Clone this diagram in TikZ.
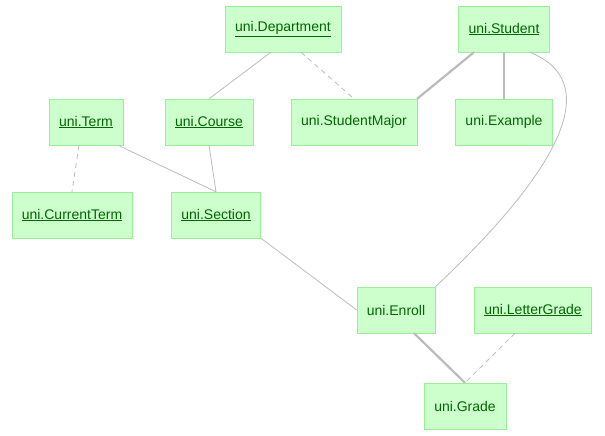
\documentclass[tikz,border=0pt]{standalone}
\usepackage{fontspec}
\setmainfont{Liberation Sans}
\usetikzlibrary{positioning}
\definecolor{boxfill}{HTML}{CCFFCC}
\definecolor{boxline}{HTML}{99EE99}
\definecolor{boxtext}{HTML}{006600}
\definecolor{edgegray}{HTML}{BBBBBB}
\tikzset{
  tbl/.style={draw=boxline, fill=boxfill, text=boxtext, inner xsep=10pt,
    minimum height=46pt, font=\fontsize{14}{16}\selectfont},
  link/.style={draw=edgegray, line width=0.8pt},
  strong/.style={draw=edgegray, line width=2.2pt},
  weak/.style={draw=edgegray, line width=0.8pt, dashed, dash pattern=on 5pt off 4pt}
}
\begin{document}
\begin{tikzpicture}[x=1pt, y=-1pt]
  \useasboundingbox (0,0) rectangle (605,436);

  \node[tbl] (dept) at (283, 29) {\underline{uni.Department}};
  \node[tbl] (student) at (504, 29) {\underline{uni.Student}};
  \node[tbl] (term) at (86, 122) {\underline{uni.Term}};
  \node[tbl] (course) at (209, 122) {\underline{uni.Course}};
  \node[tbl] (major) at (354, 122) {uni.StudentMajor};
  \node[tbl] (example) at (504, 122) {uni.Example};
  \node[tbl] (current) at (72, 215) {\underline{uni.CurrentTerm}};
  \node[tbl] (section) at (216, 215) {\underline{uni.Section}};
  \node[tbl] (enroll) at (396, 310) {uni.Enroll};
  \node[tbl] (letter) at (533, 310) {\underline{uni.LetterGrade}};
  \node[tbl] (grade) at (465, 406) {uni.Grade};

  \draw[link] (dept.south west) ++(46,0) coordinate (d1) -- (course.north);
  \draw[weak] (dept.south) ++(18,0) coordinate (d2) -- (major.north);
  \draw[strong] (student.south) ++(-30,0) coordinate (s1) -- (major.north east) ++(-32,0);
  \draw[strong] (student) ++(0,23) coordinate (s2) -- (example.north);
  \draw[link] (student.south east) ++(-20,0) coordinate (s3)
    .. controls (600,80) and (570,160) .. (enroll.north east) ++(-10,0);
  \draw[weak] (term.south) ++(-7,0) coordinate (t1) -- (current.north);
  \draw[link] (term.south) ++(32,0) coordinate (t2) -- (section.north);
  \draw[link] (course.south) -- (section.north) ++(-3,0);
  \draw[link] (section.south) ++(45,0) coordinate (c1) -- (enroll.west) ++(0,-10);
  \draw[strong] (enroll.south) ++(18,0) coordinate (e1) -- (grade.north) ++(-18,0);
  \draw[weak] (letter.south) ++(-18,0) coordinate (l1) -- (grade.north) ++(18,0);
\end{tikzpicture}
\end{document}
